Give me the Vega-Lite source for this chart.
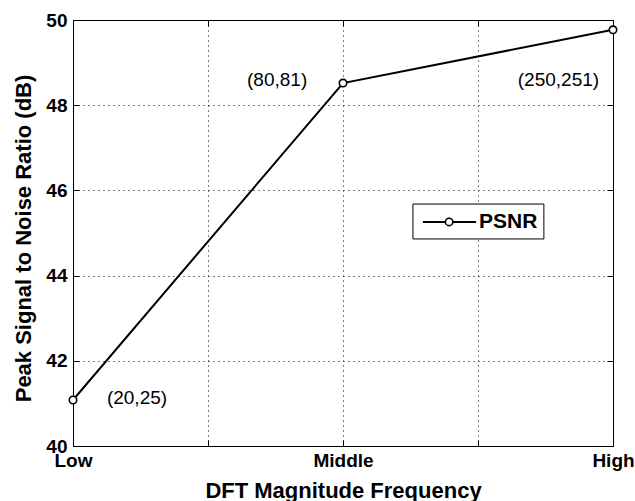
{
  "$schema": "https://vega.github.io/schema/vega-lite/v6.json",
  "width": 540,
  "height": 426,
  "autosize": {"type": "none"},
  "padding": {"left": 73, "top": 20, "right": 22, "bottom": 55},
  "background": "white",
  "config": {
    "view": {"stroke": "black", "strokeWidth": 1},
    "font": "Liberation Sans",
    "axis": {
      "domainColor": "black",
      "tickColor": "black",
      "gridColor": "black",
      "gridOpacity": 1,
      "gridDash": [1, 4],
      "labelColor": "black",
      "titleColor": "black",
      "labelFont": "Liberation Sans",
      "titleFont": "Liberation Sans",
      "labelFontWeight": "bold",
      "titleFontWeight": "bold",
      "labelFontSize": 19,
      "titleFontSize": 22,
      "labelOverlap": false,
      "labelFlush": false,
      "tickSize": -6
    }
  },
  "datasets": {
    "psnr": [
      {"level": 0, "label": "Low", "psnr": 41.08},
      {"level": 1, "label": "Middle", "psnr": 48.52},
      {"level": 2, "label": "High", "psnr": 49.77}
    ],
    "notes": [
      {"x": 0.237, "y": 41.13, "text": "(20,25)"},
      {"x": 0.756, "y": 48.59, "text": "(80,81)"},
      {"x": 1.798, "y": 48.58, "text": "(250,251)"}
    ],
    "legendBox": [{"x": 1.259, "x2": 1.744, "y": 45.68, "y2": 44.86}],
    "legendLine": [{"x": 1.296, "y": 45.26}, {"x": 1.493, "y": 45.26}],
    "legendPoint": [{"x": 1.393, "y": 45.26}],
    "legendText": [{"x": 1.504, "y": 45.26, "text": "PSNR"}]
  },
  "layer": [
    {
      "data": {"name": "psnr"},
      "mark": {"type": "line", "color": "black", "strokeWidth": 2},
      "encoding": {
        "x": {
          "field": "level", "type": "quantitative",
          "scale": {"domain": [0, 2], "nice": false, "zero": false},
          "axis": {
            "orient": "bottom",
            "values": [0, 0.5, 1, 1.5, 2],
            "labelExpr": "datum.value == 0 ? 'Low' : datum.value == 1 ? 'Middle' : datum.value == 2 ? 'High' : ''",
            "grid": true,
            "labelPadding": 11,
            "title": "DFT Magnitude Frequency",
            "titleX": 270,
            "titleY": 51,
            "titleAlign": "center",
            "titleBaseline": "alphabetic"
          }
        },
        "y": {
          "field": "psnr", "type": "quantitative",
          "scale": {"domain": [40, 50], "nice": false, "zero": false},
          "axis": {
            "orient": "left",
            "values": [40, 42, 44, 46, 48, 50],
            "grid": true,
            "labelPadding": 12,
            "labelBaseline": "middle",
            "title": "Peak Signal to Noise Ratio (dB)",
            "titleAngle": 270,
            "titleX": -50,
            "titleY": 218,
            "titleAlign": "center",
            "titleBaseline": "middle"
          }
        }
      }
    },
    {
      "data": {"name": "psnr"},
      "mark": {"type": "point", "shape": "circle", "filled": false, "color": "black", "fill": "white", "fillOpacity": 1, "strokeWidth": 1.6, "size": 55, "opacity": 1},
      "encoding": {
        "x": {
          "field": "level", "type": "quantitative",
          "axis": {"orient": "top", "values": [0, 0.5, 1, 1.5, 2], "labels": false, "grid": false, "title": null}
        },
        "y": {
          "field": "psnr", "type": "quantitative",
          "axis": {"orient": "right", "values": [40, 42, 44, 46, 48, 50], "labels": false, "grid": false, "title": null}
        }
      }
    },
    {
      "data": {"name": "notes"},
      "mark": {"type": "text", "font": "Liberation Sans", "fontSize": 19, "color": "black", "align": "center", "baseline": "middle"},
      "encoding": {
        "x": {"field": "x", "type": "quantitative", "axis": null},
        "y": {"field": "y", "type": "quantitative", "axis": null},
        "text": {"field": "text"}
      }
    },
    {
      "data": {"name": "legendBox"},
      "mark": {"type": "rect", "fill": "white", "stroke": "black", "strokeWidth": 1},
      "encoding": {
        "x": {"field": "x", "type": "quantitative", "axis": null},
        "x2": {"field": "x2"},
        "y": {"field": "y", "type": "quantitative", "axis": null},
        "y2": {"field": "y2"}
      }
    },
    {
      "data": {"name": "legendLine"},
      "mark": {"type": "line", "color": "black", "strokeWidth": 2},
      "encoding": {
        "x": {"field": "x", "type": "quantitative", "axis": null},
        "y": {"field": "y", "type": "quantitative", "axis": null}
      }
    },
    {
      "data": {"name": "legendPoint"},
      "mark": {"type": "point", "shape": "circle", "filled": false, "color": "black", "fill": "white", "fillOpacity": 1, "strokeWidth": 1.6, "size": 55, "opacity": 1},
      "encoding": {
        "x": {"field": "x", "type": "quantitative", "axis": null},
        "y": {"field": "y", "type": "quantitative", "axis": null}
      }
    },
    {
      "data": {"name": "legendText"},
      "mark": {"type": "text", "font": "Liberation Sans", "fontSize": 21, "fontWeight": "bold", "color": "black", "align": "left", "baseline": "middle"},
      "encoding": {
        "x": {"field": "x", "type": "quantitative", "axis": null},
        "y": {"field": "y", "type": "quantitative", "axis": null},
        "text": {"field": "text"}
      }
    }
  ],
  "resolve": {"axis": {"x": "independent", "y": "independent"}}
}
